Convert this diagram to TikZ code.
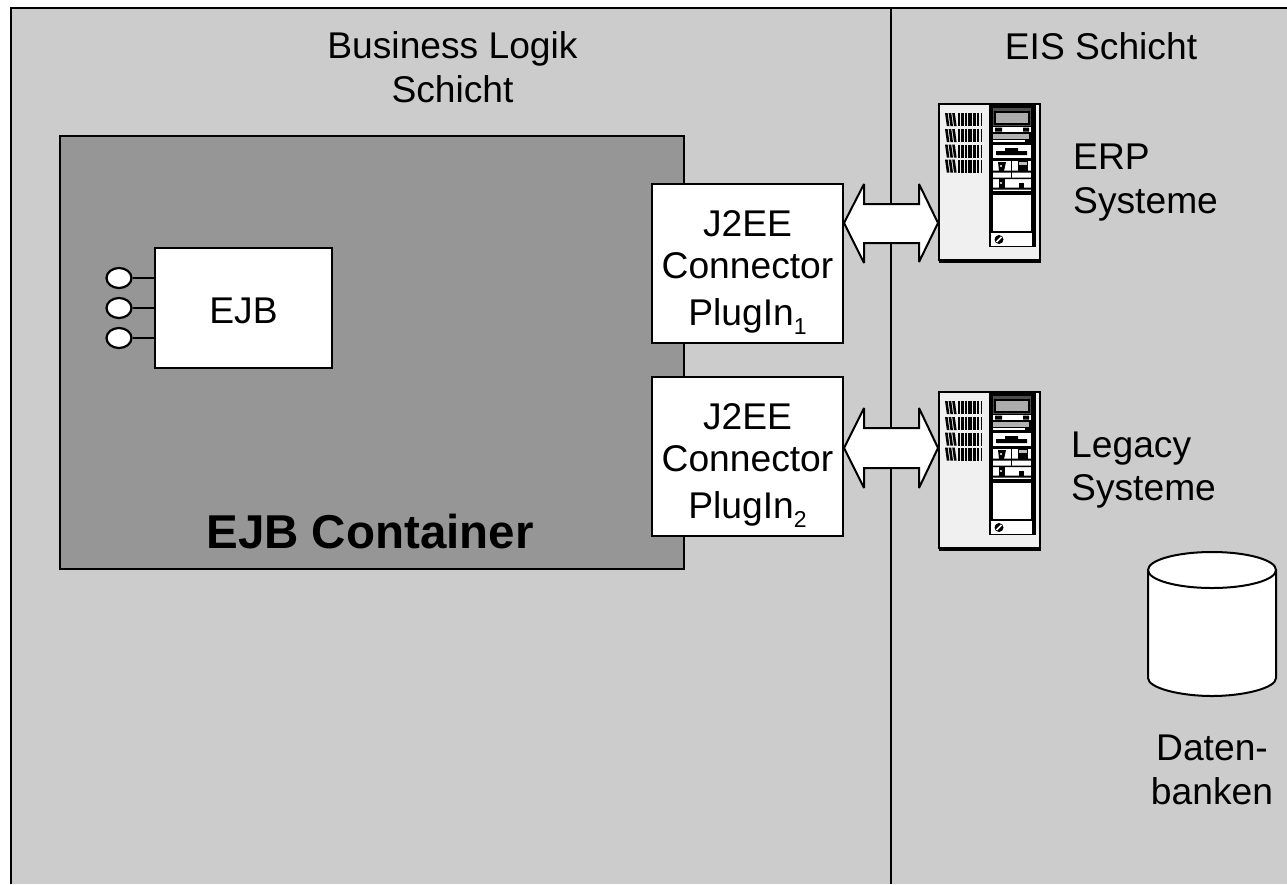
\documentclass[tikz,border=0pt]{standalone}
\usepackage{fontspec}
\setmainfont{Liberation Sans}
\usetikzlibrary{calc,shapes.geometric}
\definecolor{bggray}{HTML}{CCCCCC}
\definecolor{contgray}{HTML}{969696}
\definecolor{srvlight}{HTML}{F0F0F0}
\newcommand{\subidx}[1]{\raisebox{-9pt}{\fontsize{23}{23}\selectfont #1}}
\newcommand{\plugtext}[1]{\begin{tabular}{@{}c@{}}\rule{0pt}{47pt}J2EE\\Connector\\[4pt]PlugIn\subidx{#1}\end{tabular}}
\tikzset{
  lbl/.style={font=\fontsize{37.2}{43.5}\selectfont,align=center,inner sep=0pt,text=black},
  boxn/.style={draw=black,line width=2pt,fill=white,inner sep=0pt,align=center,font=\fontsize{37.2}{42.5}\selectfont},
  port/.style={ellipse,draw=black,line width=2.2pt,fill=white,minimum width=25pt,minimum height=20pt,inner sep=0pt},
  wire/.style={draw=black,line width=2pt},
  blockarrow/.style={draw=black,line width=2pt,fill=white,line join=miter,miter limit=4},
  srvbody/.style={draw=black,line width=2pt,fill=srvlight,inner sep=0pt,minimum width=101pt,minimum height=156pt},
}
% server cabinet details, local origin = top left corner
\newcommand{\serverdetails}[1]{%
\begin{scope}[shift={(#1)}]
  \fill[black] (0,156) rectangle (102,159);
  \fill[black] (50,0) rectangle (97,143);
  % top display
  \fill[white!30!black] (54,4) rectangle (92,22);
  \draw[black,line width=1.5pt,fill=gray!65] (56,8) rectangle (90,20);
  % strips
  \fill[white] (54,23) rectangle (92,28);
  \fill[black] (56,23.5) rectangle (63,27.5) (84,23.5) rectangle (90,27.5);
  \fill[gray!60] (54,30) rectangle (90,35);
  \fill[white] (54,36) rectangle (86,38);
  % drive panel
  \fill[white] (54,41) rectangle (92,54);
  \fill[black] (57,47) rectangle (88,51) (66,44) rectangle (79,47);
  % card rows
  \fill[white] (54,57) rectangle (92,87);
  \fill[black] (54,66.5) rectangle (92,68.5) (54,73.5) rectangle (92,75) (54,83.5) rectangle (92,85.5);
  \fill[black] (71.5,57) rectangle (73,73.5);
  \fill[black] (59,58) -- (67,58) -- (65,67) -- (60,67) -- cycle;
  \fill[black] (79,57) rectangle (89,66.5);
  \fill[gray!50] (80,58) rectangle (88,61);
  \fill[black] (60,74) rectangle (66,83.5);
  \fill[black] (80,79) rectangle (85,83.5);
  \fill[white] (62,62) circle[radius=1.2pt] (62,79) circle[radius=1.2pt];
  % big bay and bottom plate
  \fill[white] (54,91) rectangle (92,127);
  \fill[white] (52,129) rectangle (93,142);
  \fill[black] (60,135.5) circle[radius=4.5pt];
  \draw[white,line width=1.5pt] (57.5,138) -- (62.5,133);
  % vent slots
  \foreach \ry in {9,25,40.5,55.5}{
    \foreach \sx in {6,9.6,13.2}{
      \fill[black] (\sx,\ry) -- (\sx+2.6,\ry) -- (\sx+4.4,\ry+13) -- (\sx+1.8,\ry+13) -- cycle;
    }
    \foreach \sx/\sw in {18.5/2.2,22/2.6,26/1.6,28.5/4,33.5/3.6,38/2.4,41.5/1.8}{
      \fill[black] (\sx,\ry) rectangle ++(\sw,13);
    }
  }
\end{scope}}
\begin{document}
\begin{tikzpicture}[x=1pt,y=-1pt]
\useasboundingbox (0,0) rectangle (1287,884);
\fill[white] (0,0) rectangle (1287,884);
\fill[bggray] (11,8) rectangle (1287,884);
\draw[black,line width=2.4pt] (11,884) -- (11,8) -- (1287,8);
\draw[black,line width=2pt] (891,8) -- (891,884);
% container
\node[draw=black,line width=2pt,fill=contgray,minimum width=624pt,minimum height=433pt,inner sep=0pt] (cont) at (372,352.5) {};
\node[lbl,font=\fontsize{47.5}{50}\selectfont\bfseries] (conttext) at (370,532) {EJB Container};
% titles
\node[lbl] (title1) at (452.5,67) {Business Logik\\Schicht};
\node[lbl] (title2) at (1101,46) {EIS Schicht};
% EJB
\node[boxn,minimum width=177pt,minimum height=120pt] (ejb) at (243.5,308) {\rule{0pt}{31pt}EJB};
\node[port] (p1) at (119,278) {};
\node[port] (p2) at (119,308) {};
\node[port] (p3) at (119,338) {};
\draw[wire] (p1.east) -- (ejb.west |- p1);
\draw[wire] (p2.east) -- (ejb.west |- p2);
\draw[wire] (p3.east) -- (ejb.west |- p3);
% connector plug-ins
\node[boxn,minimum width=191pt,minimum height=159pt] (plug1) at (747.5,263.5) {\plugtext{1}};
\node[boxn,minimum width=191pt,minimum height=159pt] (plug2) at (747.5,456.5) {\plugtext{2}};
% servers
\node[srvbody] (srv1) at (989.5,182) {};
\serverdetails{939,104}
\node[srvbody] (srv2) at (989.5,470) {};
\serverdetails{939,392}
% block arrows
\draw[blockarrow] (plug1.east |- 0,223) -- ++(20,-39) -- ++(0,20) -- ($(srv1.west |- 0,204)+(-19,0)$) -- ++(0,-20) -- (srv1.west |- 0,223) -- ++(-19,39) -- ++(0,-19) -- ($(plug1.east |- 0,243)+(20,0)$) -- ++(0,20) -- cycle;
\draw[blockarrow] (plug2.east |- 0,448) -- ++(20,-40) -- ++(0,20) -- ($(srv2.west |- 0,428)+(-19,0)$) -- ++(0,-20) -- (srv2.west |- 0,448) -- ++(-19,40) -- ++(0,-20) -- ($(plug2.east |- 0,468)+(20,0)$) -- ++(0,20) -- cycle;
% server labels
\node[lbl,align=left,anchor=west] (erp) at (1073,182.5) {ERP\\Systeme};
\node[lbl,align=left,anchor=west] (leg) at (1071,470) {Legacy\\Systeme};
% database
\draw[black,line width=2pt,fill=white] (1148,570) -- (1148,678) .. controls (1148,688) and (1180,696) .. (1212,696) .. controls (1244,696) and (1276,688) .. (1276,678) -- (1276,570);
\draw[black,line width=2pt,fill=white] (1212,570) ellipse[x radius=64pt,y radius=18pt];
\node[lbl] (db) at (1212,770) {Daten-\\banken};
\end{tikzpicture}
\end{document}
